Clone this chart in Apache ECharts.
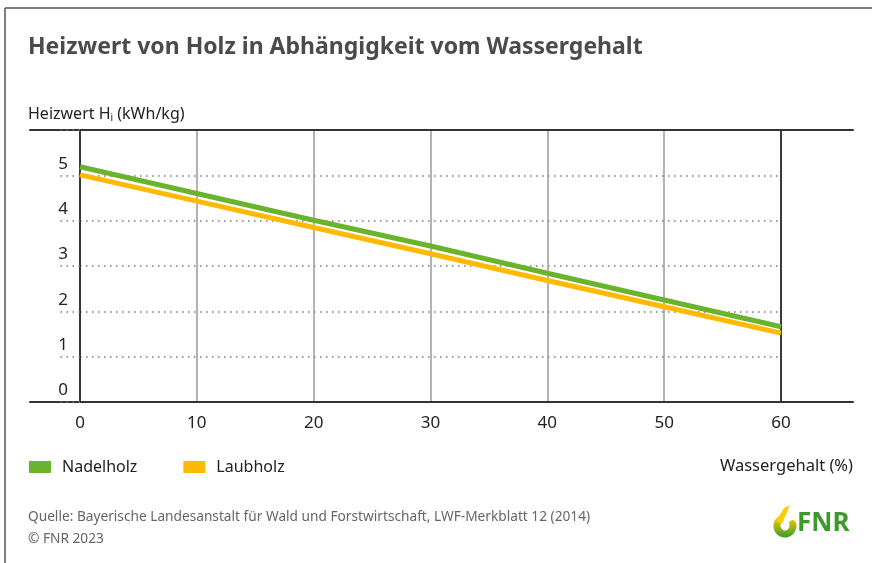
<!DOCTYPE html>
<html lang="de">
<head>
<meta charset="UTF-8">
<title>Heizwert von Holz</title>
<script src="https://cdn.jsdelivr.net/npm/echarts@6/dist/echarts.min.js"></script>
<style>
  html, body { margin: 0; padding: 0; background: #fff; }
  #chart { width: 872px; height: 563px; }
</style>
</head>
<body>
<div id="chart"></div>
<script>
// Wassergehalt in %
var wassergehalt = [0, 10, 20, 30, 40, 50, 60];
// Heizwert Hi in kWh/kg
var nadelholz = [5.19, 4.60, 4.01, 3.44, 2.84, 2.25, 1.66];
var laubholz = [5.01, 4.43, 3.85, 3.27, 2.68, 2.10, 1.52];
var yTicks = [0, 1, 2, 3, 4, 5];

var FONT = '"Noto Sans", "Open Sans", sans-serif';
var GREEN = '#6ab42d';
var ORANGE = '#ffb900';

var chart = echarts.init(document.getElementById('chart'));

function pairs(ys) {
  return ys.map(function (y, i) { return [wassergehalt[i], y]; });
}

var option = {
  animation: false,
  backgroundColor: '#fff',
  textStyle: { fontFamily: FONT },
  title: [
    {
      text: 'Heizwert von Holz in Abhängigkeit vom Wassergehalt',
      left: 23, top: 31,
      textStyle: { fontFamily: FONT, fontSize: 23, fontWeight: 'bold', color: '#4b4b4b' }
    },
    {
      text: '{a|Heizwert H}{s|i}{a| (kWh/kg)}',
      left: 23, top: 100,
      textStyle: {
        fontWeight: 'normal',
        rich: {
          a: { fontFamily: FONT, fontSize: 16, color: '#222', fontWeight: 'normal' },
          s: { fontFamily: FONT, fontSize: 10, color: '#222', fontWeight: 'normal', padding: [8, 0, 0, 0] }
        }
      }
    },
    {
      text: 'Quelle: Bayerische Landesanstalt für Wald und Forstwirtschaft, LWF-Merkblatt 12 (2014)\n© FNR 2023',
      left: 23, top: 501,
      textStyle: { fontFamily: FONT, fontSize: 13.7, color: '#666', lineHeight: 22, fontWeight: 'normal' }
    }
  ],
  legend: {
    left: 24, top: 454,
    icon: 'rect',
    itemWidth: 22, itemHeight: 12,
    itemGap: 46,
    textStyle: { fontFamily: FONT, fontSize: 16, color: '#222', padding: [0, 0, 0, 6] },
    data: ['Nadelholz', 'Laubholz']
  },
  grid: [
    { left: 80, right: 91, top: 130, bottom: 161 },
    { left: 30, right: 19, top: 130, bottom: 161 }
  ],
  xAxis: [
    {
      type: 'value', gridIndex: 0, min: 0, max: 60, interval: 10,
      axisLine: { show: false },
      axisTick: { show: false },
      axisLabel: { fontFamily: FONT, fontSize: 17, color: '#222', margin: 13 },
      splitLine: { show: true, lineStyle: { color: '#9a9a9a', width: 1.5 } }
    },
    {
      type: 'value', gridIndex: 1, position: 'bottom', min: 0, max: 1,
      axisLine: { show: true, lineStyle: { color: '#333', width: 2 } },
      axisTick: { show: false }, axisLabel: { show: false }, splitLine: { show: false },
      name: 'Wassergehalt (%)',
      nameLocation: 'end', nameGap: 0,
      nameTextStyle: {
        fontFamily: FONT, fontSize: 16.5, color: '#222',
        align: 'right', verticalAlign: 'top', padding: [56, 0, 0, 0]
      }
    },
    {
      type: 'value', gridIndex: 1, position: 'top', min: 0, max: 1,
      axisLine: { show: true, lineStyle: { color: '#333', width: 2 } },
      axisTick: { show: false }, axisLabel: { show: false }, splitLine: { show: false }
    }
  ],
  yAxis: [
    {
      type: 'value', gridIndex: 0, min: 0, max: 6, interval: 1,
      axisLine: { show: true, lineStyle: { color: '#111', width: 1.5 } },
      axisTick: { show: true, inside: false, length: 22, lineStyle: { color: '#777', width: 1.5, type: [1.5, 4.5] } },
      axisLabel: {
        fontFamily: FONT, fontSize: 17, color: '#222', margin: 12,
        verticalAlign: 'bottom', padding: [0, 0, 3, 0],
        formatter: function (v) { return yTicks.indexOf(v) >= 0 ? String(v) : ''; }
      },
      splitLine: { show: true, lineStyle: { color: '#777', width: 1.5, type: [1.5, 4.5] } }
    },
    {
      type: 'value', gridIndex: 0, position: 'right', min: 0, max: 6, interval: 1,
      axisLine: { show: true, lineStyle: { color: '#111', width: 1.5 } },
      axisTick: { show: false }, axisLabel: { show: false }, splitLine: { show: false }
    },
    {
      type: 'value', gridIndex: 1, min: 0, max: 1, show: false
    }
  ],
  series: [
    {
      name: 'Laubholz', type: 'line', xAxisIndex: 0, yAxisIndex: 0,
      data: pairs(laubholz), symbol: 'none',
      itemStyle: { color: ORANGE },
      lineStyle: { color: ORANGE, width: 5 }
    },
    {
      name: 'Nadelholz', type: 'line', xAxisIndex: 0, yAxisIndex: 0,
      data: pairs(nadelholz), symbol: 'none',
      itemStyle: { color: GREEN },
      lineStyle: { color: GREEN, width: 5 }
    }
  ],
  graphic: [
    // Rahmen links und oben
    { type: 'line', shape: { x1: 5, y1: 8, x2: 5, y2: 563 }, style: { stroke: '#555', lineWidth: 1.5 } },
    { type: 'line', shape: { x1: 5, y1: 8, x2: 872, y2: 8 }, style: { stroke: '#555', lineWidth: 1.5 } },
    // FNR Logo
    {
      type: 'arc', shape: { cx: 785, cy: 526, r: 8, startAngle: -0.3, endAngle: Math.PI + 0.9 },
      style: {
        fill: 'none', lineWidth: 7, lineCap: 'round',
        stroke: new echarts.graphic.LinearGradient(0, 0, 0, 1, [
          { offset: 0, color: '#ffd200' }, { offset: 1, color: '#3c9a2c' }
        ])
      }
    },
    {
      type: 'polygon', shape: { points: [[776, 521], [784, 508], [790, 505], [786, 515], [781, 524]] },
      style: { fill: '#f6cf0a' }
    },
    {
      type: 'text', left: 797, top: 511,
      style: { text: 'FNR', fill: '#3c9a2c', font: 'bold 26px ' + FONT }
    }
  ]
};

chart.setOption(option);
</script>
</body>
</html>
